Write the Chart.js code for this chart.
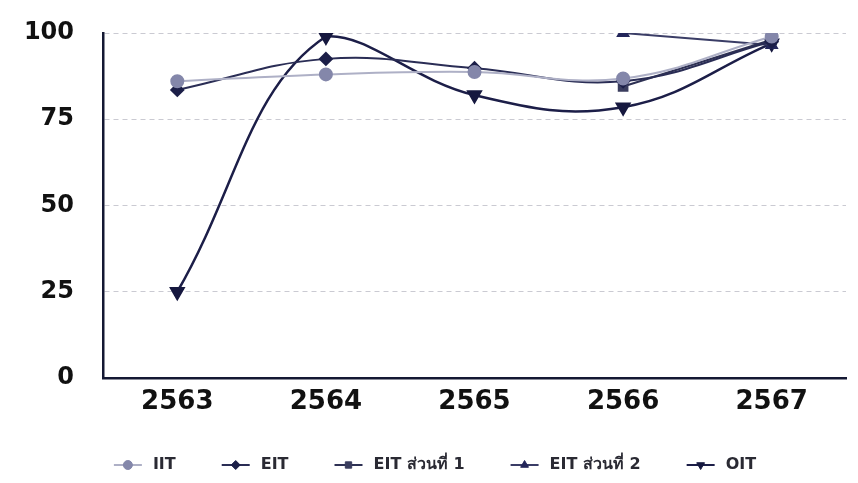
<!DOCTYPE html>
<html><head><meta charset="utf-8">
<script src="https://cdn.jsdelivr.net/npm/chart.js@4"></script>
<style>html,body{margin:0;padding:0;background:#fff}#wrap{width:858px;height:483px;position:relative}</style>
</head><body><div id="wrap"><canvas id="c"></canvas></div>
<script>
const categories = ['2563','2564','2565','2566','2567'];
const seriesNames = ['IIT','EIT','EIT ส่วนที่ 1','EIT ส่วนที่ 2','OIT'];
const iitValues = [86, 88, 88.7, 86.8, 99];
const eitValues = [83.5, 92.5, 89.8, 86, 97.5];
const eit1Values = [null, null, null, 84.5, 98];
const eit2Values = [null, null, null, 100, 96.5];
const oitValues = [25, 99, 82, 78.5, 97];
const yTicks = [0, 25, 50, 75, 100];

const mk = (label, data, color, lineColor, style, r, w, rot) => ({
  label, data, borderColor: lineColor, backgroundColor: color,
  pointBackgroundColor: color, pointBorderColor: color,
  pointStyle: style, pointRadius: r, pointHoverRadius: r, pointRotation: rot || 0,
  borderWidth: w, tension: 0.4, spanGaps: true, fill: false
});

// legend drawn with line segment + marker + text, centred under the chart
const lineLegend = {
  id: 'lineLegend',
  afterDraw(chart) {
    const ctx = chart.ctx;
    const font = 'bold 16px "DejaVu Sans"';
    const seg = 28, gapText = 11, gapItem = 46;
    ctx.save();
    ctx.font = font;
    const items = chart.data.datasets.map(ds => ({ ds, w: ctx.measureText(ds.label).width }));
    const total = items.reduce((a, it) => a + seg + gapText + it.w, 0) + gapItem * (items.length - 1);
    let x = (chart.width - total) / 2 + 6;
    const y = 465;
    items.forEach(({ ds, w }) => {
      ctx.strokeStyle = ds.borderColor;
      ctx.lineWidth = 2;
      ctx.beginPath(); ctx.moveTo(x, y); ctx.lineTo(x + seg, y); ctx.stroke();
      ctx.fillStyle = ds.pointBackgroundColor;
      ctx.strokeStyle = ds.pointBorderColor;
      ctx.lineWidth = 1;
      Chart.helpers.drawPoint(ctx, { pointStyle: ds.pointStyle, radius: 4.5, rotation: ds.pointRotation, borderWidth: 1 }, x + seg / 2, y);
      ctx.fillStyle = '#2a2a33';
      ctx.textBaseline = 'middle';
      ctx.textAlign = 'left';
      ctx.fillText(ds.label, x + seg + gapText, y);
      x += seg + gapText + w + gapItem;
    });
    ctx.restore();
  }
};

new Chart(document.getElementById('c'), {
  type: 'line',
  data: {
    labels: categories,
    datasets: [
      mk(seriesNames[0], iitValues, '#8487aa', '#aeb0c6', 'circle', 6, 2),
      mk(seriesNames[1], eitValues, '#1c1f48', '#2a2d55', 'rectRot', 6, 2),
      mk(seriesNames[2], eit1Values, '#3a3d5e', '#2e3154', 'rect', 6, 2.2),
      mk(seriesNames[3], eit2Values, '#23265a', '#3a3d66', 'triangle', 6, 2),
      mk(seriesNames[4], oitValues, '#16183f', '#1c1e48', 'triangle', 7, 2.5, 180)
    ]
  },
  options: {
    responsive: true, maintainAspectRatio: false, animation: false,
    layout: { padding: { top: 33, right: 12, left: 0, bottom: 53 } },
    plugins: {
      tooltip: { enabled: false },
      legend: { display: false }
    },
    scales: {
      x: {
        offset: true,
        grid: { display: false, drawTicks: false },
        border: { display: true, color: '#141833', width: 2.5 },
        ticks: { color: '#111', padding: 9, font: { family: 'DejaVu Sans', size: 26, weight: 'bold' } },
        afterFit: s => { s.height = 52; }
      },
      y: {
        min: 0, max: 100,
        afterBuildTicks: s => { s.ticks = yTicks.map(v => ({ value: v })); },
        grid: { color: '#cacad2', lineWidth: 1, drawTicks: true, tickLength: 27, tickColor: 'rgba(0,0,0,0)' },
        border: { display: true, color: '#141833', width: 2.5, dash: [5, 4] },
        ticks: { color: '#111', padding: 2, font: { family: 'DejaVu Sans', size: 24, weight: 'bold' } },
        afterFit: s => { s.width = 103; }
      }
    }
  },
  plugins: [lineLegend]
});
</script></body></html>
